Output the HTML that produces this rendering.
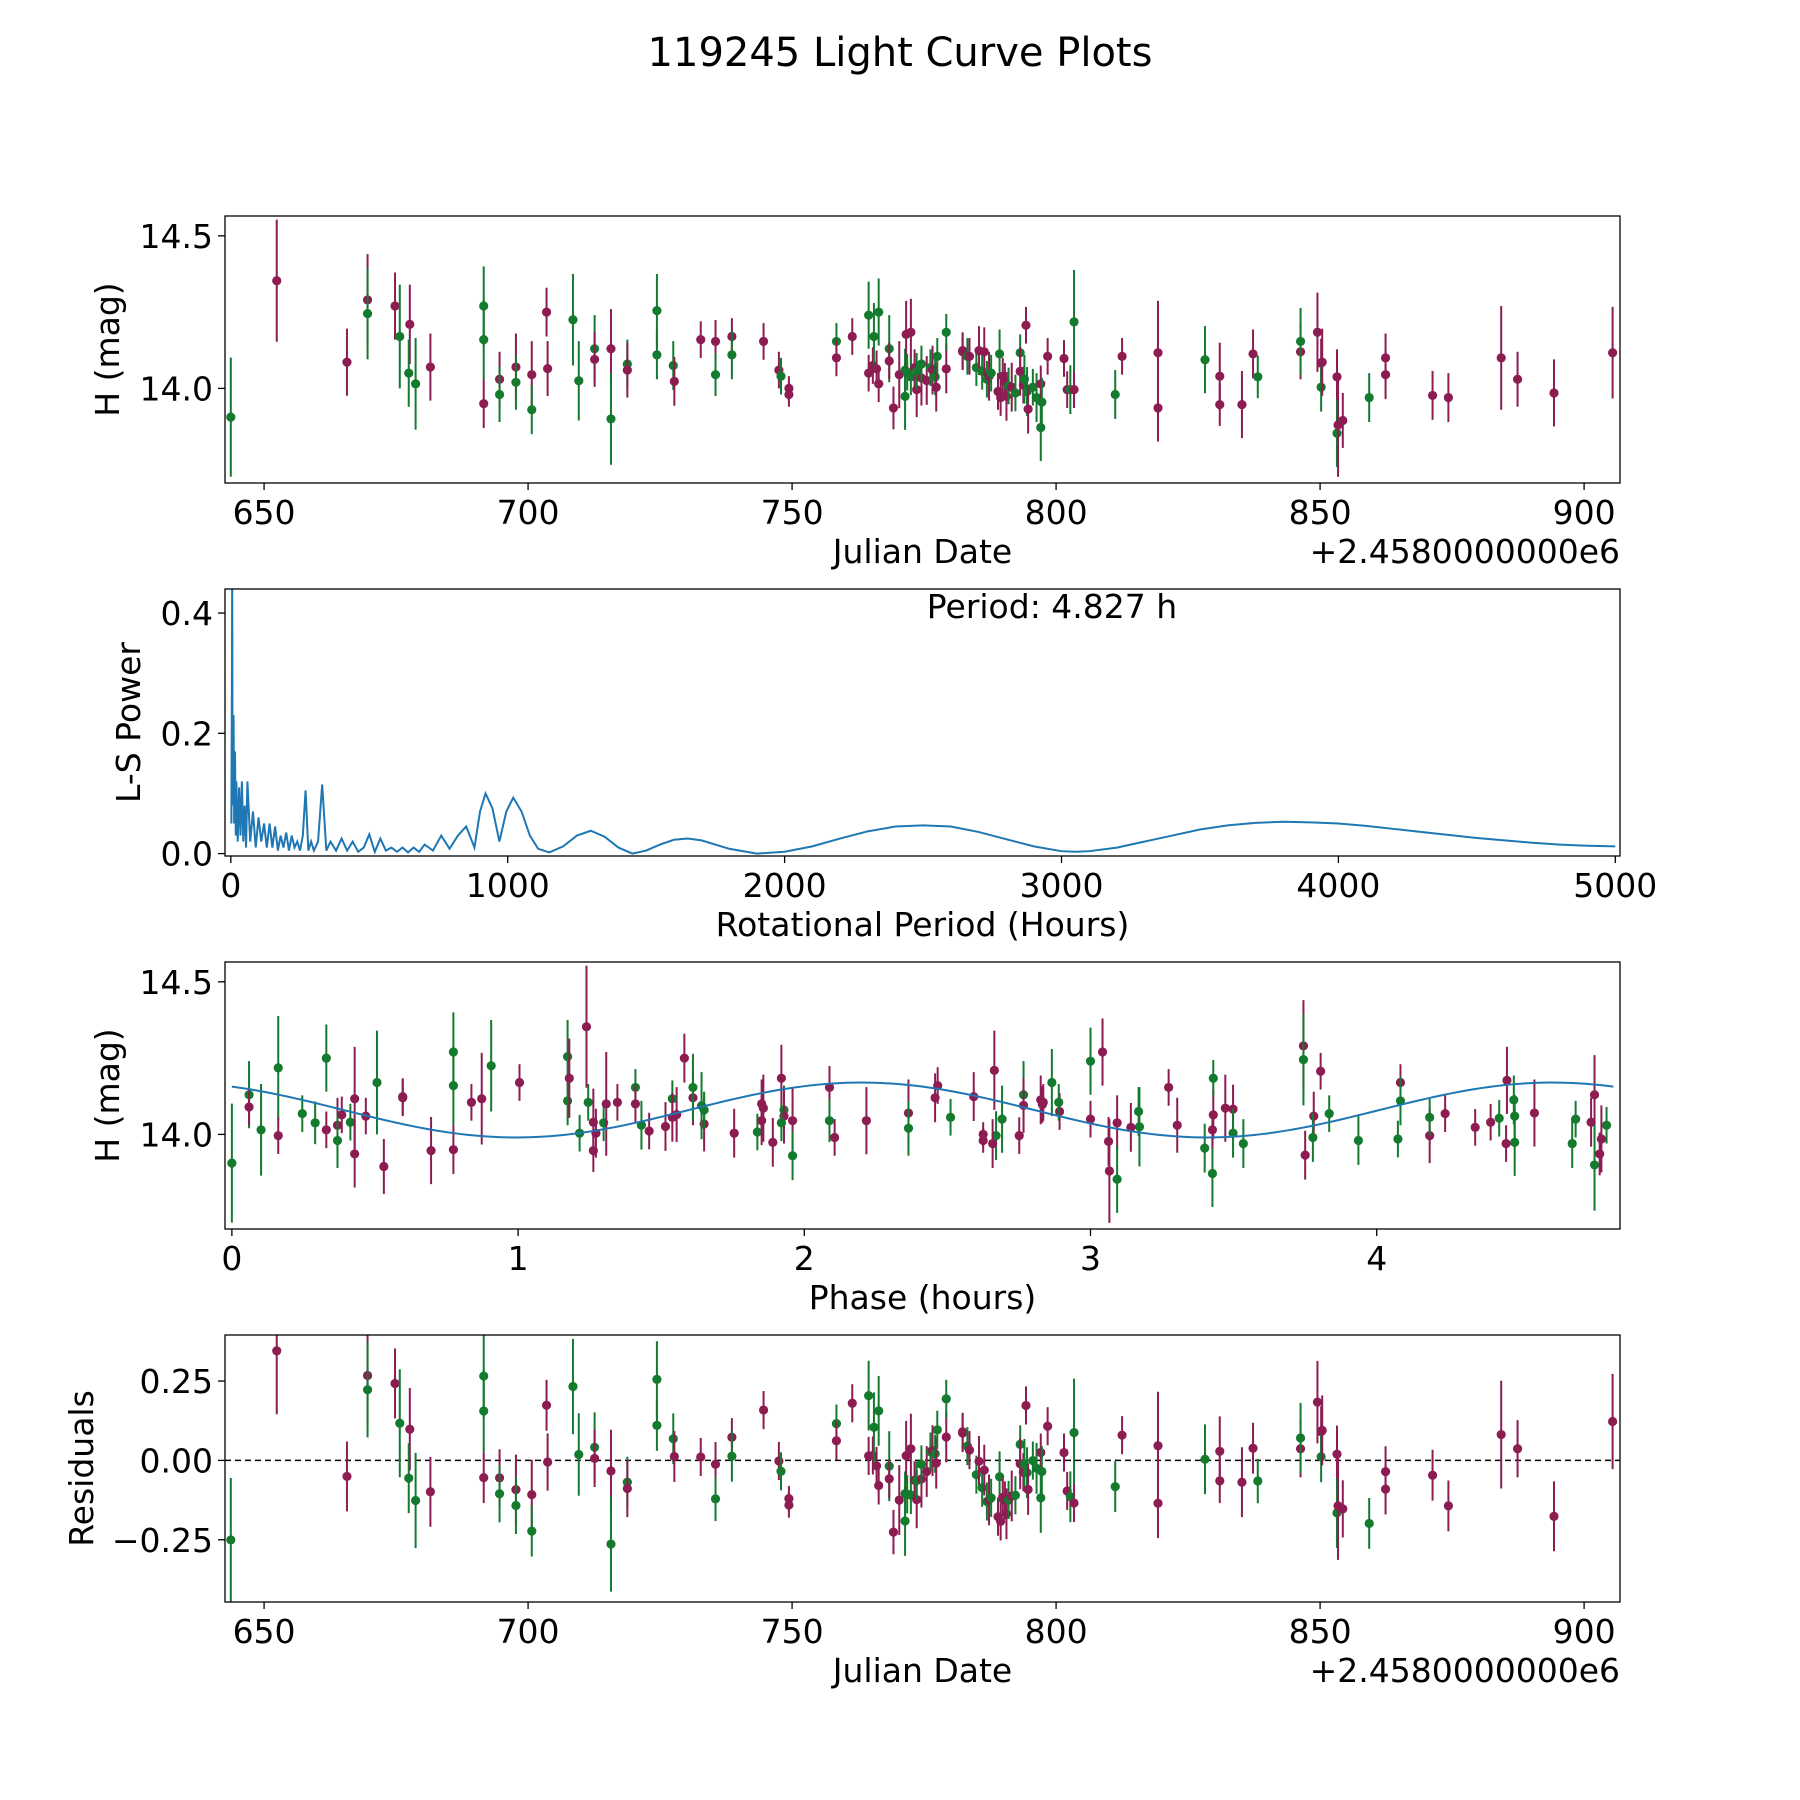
<!DOCTYPE html>
<html><head><meta charset="utf-8"><style>
html,body{margin:0;padding:0;background:#fff}
svg{display:block;font-family:"DejaVu Sans","Liberation Sans",sans-serif}
</style></head><body>
<svg id="fig" width="1800" height="1800" viewBox="0 0 1800 1800" xmlns="http://www.w3.org/2000/svg">
<rect width="1800" height="1800" fill="#fff"/>
<text x="900" y="66" font-size="40" text-anchor="middle">119245 Light Curve Plots</text>
</svg>
<script>
// ---- data ----
const jd = [643.7,652.4,665.7,669.6,669.6,674.8,675.7,677.6,677.4,678.7,681.5,691.6,691.6,691.6,694.6,694.6,697.7,697.7,700.7,700.7,703.5,703.7,708.5,709.6,712.6,712.6,715.7,715.7,718.8,718.8,724.4,724.4,727.5,727.7,732.7,735.5,735.5,738.6,738.6,744.6,747.5,747.9,749.4,749.4,758.4,758.4,761.4,764.5,764.5,765.3,765.5,766.0,766.4,766.4,768.4,768.4,769.2,770.3,771.4,771.4,771.6,771.8,772.5,772.5,773.2,773.6,773.6,774.5,774.5,775.5,776.2,776.6,777.1,777.3,777.5,779.2,779.2,782.3,782.3,783.2,783.6,784.9,785.4,786.0,786.4,786.9,787.3,787.7,789.0,789.3,789.5,789.9,790.3,790.6,791.0,791.6,792.3,793.2,793.2,793.8,794.0,794.3,794.5,794.7,795.6,796.3,797.1,797.1,797.3,798.4,801.5,802.1,802.7,803.4,803.4,811.2,812.5,819.3,819.3,828.2,831.0,831.0,835.2,837.3,838.2,846.3,846.3,849.5,850.2,850.2,850.4,853.2,853.2,853.4,854.3,859.3,862.4,862.4,871.3,874.3,884.3,887.4,894.3,905.4];
const mag = [13.906,14.353,14.086,14.29,14.245,14.27,14.17,14.21,14.05,14.015,14.07,13.95,14.27,14.16,14.03,13.98,14.07,14.02,14.045,13.93,14.25,14.065,14.225,14.025,14.13,14.095,14.13,13.9,14.08,14.06,14.255,14.11,14.075,14.023,14.16,14.154,14.045,14.17,14.11,14.154,14.06,14.04,13.98,14.0,14.154,14.1,14.17,14.05,14.24,14.075,14.17,14.064,14.25,14.015,14.13,14.09,13.936,14.045,13.974,14.06,14.177,14.053,14.184,14.038,14.068,13.996,14.056,14.034,14.08,14.026,14.068,14.06,14.038,14.004,14.105,14.064,14.184,14.12,14.124,14.105,14.105,14.068,14.124,14.056,14.12,14.03,14.04,14.05,13.99,14.113,13.97,14.04,14.023,13.974,14.008,14.004,13.985,14.117,14.056,14.011,14.03,14.207,13.99,13.932,14.004,13.97,13.872,14.015,13.955,14.105,14.098,13.996,13.996,14.218,13.996,13.98,14.105,14.117,13.936,14.094,14.04,13.947,13.947,14.113,14.038,14.12,14.154,14.184,14.083,14.004,14.086,14.038,13.853,13.88,13.895,13.97,14.045,14.1,13.977,13.97,14.1,14.03,13.985,14.117];
const err = [0.195,0.2,0.11,0.15,0.15,0.11,0.17,0.13,0.11,0.15,0.11,0.08,0.13,0.13,0.09,0.09,0.11,0.09,0.11,0.08,0.08,0.09,0.15,0.13,0.11,0.09,0.13,0.15,0.08,0.09,0.12,0.08,0.08,0.08,0.06,0.07,0.07,0.06,0.08,0.06,0.06,0.06,0.04,0.04,0.06,0.06,0.06,0.06,0.11,0.06,0.11,0.06,0.11,0.06,0.11,0.06,0.07,0.11,0.11,0.07,0.11,0.06,0.11,0.06,0.06,0.09,0.06,0.09,0.06,0.08,0.06,0.08,0.06,0.08,0.06,0.08,0.06,0.06,0.06,0.06,0.06,0.06,0.08,0.06,0.08,0.06,0.08,0.06,0.06,0.08,0.06,0.06,0.06,0.08,0.06,0.08,0.06,0.06,0.08,0.06,0.08,0.06,0.08,0.08,0.06,0.08,0.11,0.06,0.08,0.06,0.06,0.06,0.08,0.17,0.06,0.08,0.06,0.17,0.11,0.11,0.11,0.07,0.11,0.08,0.07,0.09,0.11,0.13,0.08,0.08,0.11,0.09,0.11,0.17,0.09,0.08,0.08,0.08,0.08,0.08,0.17,0.09,0.11,0.15];
const band = "gmmmgmgmggmmggmgmgmgmmgggmmggmgggmmmgmgmmgmmgmmmgmgmgmgmmmggmgmgmmgmgmgmgmgmgmmgmgmgmgmgmgmmmmgmggmmgmgmgggmgmmmggmgmmmgmmmmgmgmmgmmgmmgmmmmmmmm";
const lsPeriod = [2,4,5,6,8,10,12,15,18,20,25,30,35,40,45,50,55,60,70,80,90,100,110,120,130,140,150,160,170,180,190,200,210,220,230,240,250,260,270,280,290,300,315,330,345,360,380,400,420,440,460,480,500,520,540,560,580,600,620,640,660,680,700,730,760,790,820,850,880,900,920,945,970,995,1020,1050,1080,1110,1150,1200,1250,1300,1350,1400,1450,1500,1550,1600,1650,1700,1800,1900,2000,2100,2200,2300,2400,2500,2600,2700,2800,2900,3000,3050,3100,3200,3300,3400,3500,3600,3700,3800,3900,4000,4100,4200,4300,4400,4500,4600,4700,4800,4900,5000];
const lsPower = [0.05,0.30,0.46,0.20,0.08,0.23,0.05,0.17,0.03,0.12,0.02,0.11,0.03,0.12,0.02,0.08,0.01,0.12,0.02,0.07,0.01,0.06,0.02,0.05,0.01,0.05,0.01,0.045,0.005,0.03,0.01,0.035,0.005,0.03,0.01,0.02,0.005,0.03,0.105,0.005,0.02,0.005,0.02,0.115,0.005,0.02,0.005,0.025,0.005,0.02,0.003,0.01,0.032,0.003,0.025,0.005,0.01,0.003,0.01,0.002,0.01,0.003,0.015,0.005,0.03,0.008,0.03,0.045,0.01,0.07,0.10,0.075,0.02,0.07,0.093,0.07,0.03,0.008,0.002,0.012,0.03,0.038,0.028,0.01,0.0,0.005,0.015,0.023,0.025,0.022,0.008,0.0,0.003,0.012,0.025,0.037,0.045,0.047,0.045,0.036,0.024,0.012,0.004,0.003,0.004,0.01,0.02,0.03,0.04,0.047,0.051,0.053,0.052,0.05,0.046,0.041,0.036,0.031,0.026,0.022,0.018,0.015,0.013,0.012];
const periodH = 4.827;
const modelMean = 14.08, modelAmp = 0.09, modelPeak = 2.2;
const jdTicks = [650,700,750,800,850,900];
const magTicks = [14.0,14.5];
const lsXTicks = [0,1000,2000,3000,4000,5000];
const lsYTicks = [0.0,0.2,0.4];
const phTicks = [0,1,2,3,4];
const resTicks = [-0.25,0.0,0.25];
</script>
<script>
const NS="http://www.w3.org/2000/svg";
const svg=document.getElementById('fig');
const COL={m:'#8c1c52',g:'#137a2e'};
const L=225,R=1620,H=267,TOPS=[216,589,962,1335];
const FS=33;
function mk(tag,attrs,parent){const e=document.createElementNS(NS,tag);for(const k in attrs)e.setAttribute(k,attrs[k]);(parent||svg).appendChild(e);return e;}
function lin(d0,d1,p0,p1){return v=>p0+(v-d0)*(p1-p0)/(d1-d0);}
function model(p){return modelMean+modelAmp*Math.cos(2*Math.PI*2*(p-modelPeak)/periodH);}
const phase=jd.map(t=>(((t-jd[0])*24)%periodH+periodH)%periodH);
const resid=mag.map((v,i)=>v-model(phase[i]));

function panel(idx,name,xd,yd,xt,xfmt,yt,yfmt,xlabel,ylabel,ylx,offset){
  const top=TOPS[idx],bot=top+H;
  const g=mk('g',{});
  
  
  const X=lin(xd[0],xd[1],L,R),Y=lin(yd[0],yd[1],bot,top);
  const cp=mk('clipPath',{id:'c'+idx},g);mk('rect',{x:L,y:top,width:R-L,height:H},cp);
  const plot=mk('g',{'clip-path':'url(#c'+idx+')'},g);
  xt.forEach(v=>{const x=X(v);mk('line',{x1:x,x2:x,y1:bot,y2:bot+7,stroke:'#000','stroke-width':1.3},g);
    const t=mk('text',{x:x,y:bot+41,'font-size':FS,'text-anchor':'middle'},g);t.textContent=xfmt(v);
    
    });
  yt.forEach(v=>{const y=Y(v);mk('line',{x1:L-7,x2:L,y1:y,y2:y,stroke:'#000','stroke-width':1.3},g);
    const t=mk('text',{x:L-12,y:y+12,'font-size':FS,'text-anchor':'end'},g);t.textContent=yfmt(v);
    
    });
  const xl=mk('text',{x:(L+R)/2,y:bot+80,'font-size':FS,'text-anchor':'middle'},g);xl.textContent=xlabel;
  
  
  const yc=top+H/2;
  const yl=mk('text',{x:ylx,y:yc,'font-size':FS,'text-anchor':'middle',transform:`rotate(-90 ${ylx} ${yc})`},g);yl.textContent=ylabel;
  
  
  if(offset){const o=mk('text',{x:R,y:bot+80,'font-size':FS,'text-anchor':'end'},g);o.textContent=offset;
    
    }
  mk('rect',{x:L,y:top,width:R-L,height:H,fill:'none',stroke:'#000','stroke-width':1.3},g);
  return {X,Y,plot};
}
function errpts(p,xs,ys,es,nm){
  xs.forEach((xv,i)=>{const c=COL[band[i]];const x=p.X(xv);
    const ln=mk('line',{x1:x,x2:x,y1:p.Y(ys[i]-es[i]),y2:p.Y(ys[i]+es[i]),stroke:c,'stroke-width':2},p.plot);
    
    
    const pt=mk('circle',{cx:x,cy:p.Y(ys[i]),r:4.6,fill:c},p.plot);
    
    });
}
const f1=v=>v.toFixed(1);
// panel 1
const p1=panel(0,'light-curve-panel',[642.6,906.8],[13.69,14.565],jdTicks,v=>String(v),magTicks,f1,'Julian Date','H (mag)',119,'+2.4580000000e6');
errpts(p1,jd,mag,err,'magnitude');
// panel 2
const p2=panel(1,'periodogram-panel',[-21,5017],[-0.004,0.44],lsXTicks,v=>String(v),lsYTicks,f1,'Rotational Period (Hours)','L-S Power',140,null);
const ls=mk('polyline',{points:lsPeriod.map((v,i)=>p2.X(v)+','+p2.Y(lsPower[i])).join(' '),fill:'none',stroke:'#1f77b4','stroke-width':2},p2.plot);


const pt=mk('text',{x:1052,y:618,'font-size':FS,'text-anchor':'middle'});pt.textContent='Period: '+periodH.toFixed(3)+' h';


// panel 3
const p3=panel(2,'phase-folded-panel',[-0.024,4.85],[13.69,14.565],phTicks,v=>String(v),magTicks,f1,'Phase (hours)','H (mag)',119,null);
errpts(p3,phase,mag,err,'phased');
const mp=[];for(let i=0;i<=200;i++){const p=periodH*i/200;mp.push(p3.X(p)+','+p3.Y(model(p)));}
const ml=mk('polyline',{points:mp.join(' '),fill:'none',stroke:'#1f77b4','stroke-width':2},p3.plot);


// panel 4
const p4=panel(3,'residuals-panel',[642.6,906.8],[-0.446,0.395],jdTicks,v=>String(v),resTicks,v=>(v<0?'\u2212':'')+Math.abs(v).toFixed(2),'Julian Date','Residuals',93,'+2.4580000000e6');
const zl=mk('line',{x1:L,x2:R,y1:p4.Y(0),y2:p4.Y(0),stroke:'#000','stroke-width':1.5,'stroke-dasharray':'6,4'},p4.plot);


errpts(p4,jd,resid,err,'residual');
</script>
</body></html>
